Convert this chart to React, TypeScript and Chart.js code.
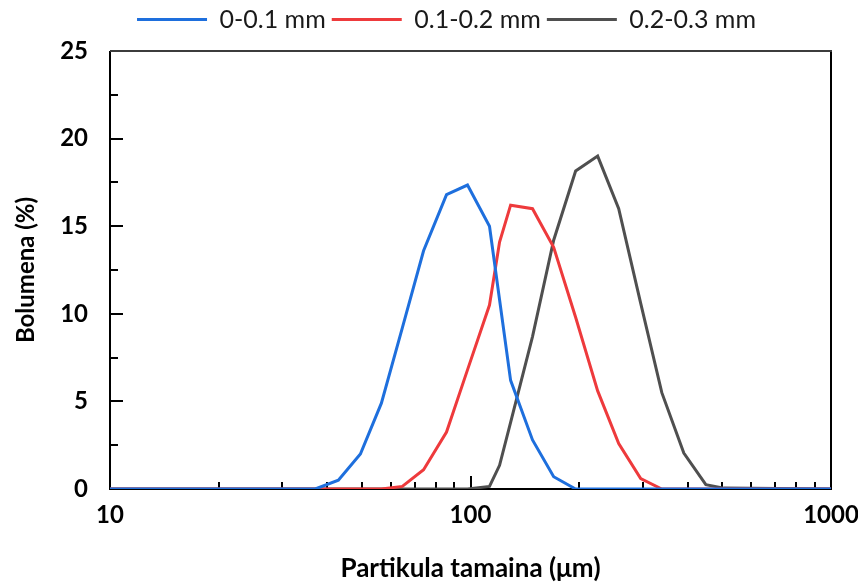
import React, { useEffect, useRef } from "react";
import { Chart, registerables } from "chart.js";

Chart.register(...registerables);

// Particle size (µm)
const sizesUm = [10, 37.1, 43.0, 49.5, 56.6, 64.7, 74.1, 85.8, 98.1, 112.9, 120.4, 129.2, 148.6, 170.1, 195.7, 225.3, 257.7, 296.6, 339.4, 390.6, 449.6, 504.5, 1000];

// Volume (%) per fraction
const fine = [0, 0, 0.5, 2.0, 4.9, 9.2, 13.6, 16.8, 17.35, 15.0, 10.8, 6.2, 2.8, 0.7, 0, 0, 0, 0, 0, 0, 0, 0, 0];
const medium = [0, 0, 0, 0, 0, 0.15, 1.1, 3.25, 6.8, 10.5, 14.1, 16.2, 16.0, 13.8, 9.8, 5.6, 2.6, 0.6, 0, 0, 0, 0, 0];
const coarse = [0, 0, 0, 0, 0, 0, 0, 0, 0, 0.15, 1.35, 3.8, 8.7, 14.2, 18.15, 19.0, 16.0, 10.6, 5.5, 2.05, 0.25, 0.05, 0];

const seriesLabels = ["0-0.1 mm", "0.1-0.2 mm", "0.2-0.3 mm"];
const seriesColors = ["#1E6FDD", "#EE3A3C", "#4F4F4F"];

const xMajorTicks = [10, 100, 1000];
const xMinorTicks = [20, 30, 40, 50, 60, 70, 80, 90, 200, 300, 400, 500, 600, 700, 800, 900];
const yMajorTicks = [0, 5, 10, 15, 20, 25];
const yMinorTicks = [2.5, 7.5, 12.5, 17.5, 22.5];

const xTitle = "Partikula tamaina (\u03BCm)";
const yTitle = "Bolumena (%)";

const FONT = "Lato, 'Open Sans', sans-serif";

const framePlugin = {
  id: "frameTicks",
  afterLayout(chart: any) {
    const lg = chart.legend;
    if (lg) {
      lg.top -= 9;
      lg.bottom -= 9;
      lg.left += 31;
      lg.right += 31;
    }
  },
  beforeDatasetsDraw(chart: any) {
    const { ctx, chartArea: a, scales } = chart;
    const x = scales.x;
    const y = scales.y;
    ctx.save();
    ctx.strokeStyle = "#000";
    ctx.lineWidth = 2;
    ctx.beginPath();
    for (const v of xMajorTicks) {
      const px = Math.round(x.getPixelForValue(v));
      ctx.moveTo(px, a.bottom);
      ctx.lineTo(px, a.bottom - 13);
    }
    for (const v of xMinorTicks) {
      const px = Math.round(x.getPixelForValue(v));
      ctx.moveTo(px, a.bottom);
      ctx.lineTo(px, a.bottom - 7);
    }
    for (const v of yMajorTicks) {
      const py = Math.round(y.getPixelForValue(v));
      ctx.moveTo(a.left, py);
      ctx.lineTo(a.left + 13, py);
    }
    for (const v of yMinorTicks) {
      const py = Math.round(y.getPixelForValue(v));
      ctx.moveTo(a.left, py);
      ctx.lineTo(a.left + 8, py);
    }
    ctx.stroke();
    // left, bottom, right borders
    ctx.beginPath();
    ctx.moveTo(a.right, a.top);
    ctx.lineTo(a.right, a.bottom);
    ctx.lineTo(a.left, a.bottom);
    ctx.lineTo(a.left, a.top);
    ctx.stroke();
    // top border
    ctx.strokeStyle = "#3c3c3c";
    ctx.beginPath();
    ctx.moveTo(a.left, a.top);
    ctx.lineTo(a.right + 1, a.top);
    ctx.stroke();
    ctx.restore();
  },
};

export default function App() {
  const canvasRef = useRef<HTMLCanvasElement | null>(null);

  useEffect(() => {
    const canvas = canvasRef.current;
    if (!canvas) return;
    const series = [fine, medium, coarse];
    const datasets = series.map((vals, i) => ({
      label: seriesLabels[i],
      data: sizesUm.map((s, j) => ({ x: s, y: vals[j] })),
      borderColor: seriesColors[i],
      backgroundColor: seriesColors[i],
      borderWidth: 3,
      pointRadius: 0,
      pointHoverRadius: 0,
      tension: 0,
      fill: false,
    }));

    const chart = new Chart(canvas, {
      type: "line",
      data: { datasets },
      plugins: [framePlugin],
      options: {
        animation: false,
        responsive: false,
        devicePixelRatio: 1,
        layout: { padding: { top: 10, right: 27, bottom: 0, left: 0 } },
        plugins: {
          tooltip: { enabled: false },
          legend: {
            display: true,
            position: "top",
            labels: {
              boxWidth: 70,
              boxHeight: 0,
              padding: 6,
              color: "#1a1a1a",
              font: { family: FONT, size: 25, weight: "normal" },
            },
          },
        },
        scales: {
          x: {
            type: "logarithmic",
            min: 10,
            max: 1000,
            afterBuildTicks: (scale: any) => {
              scale.ticks = xMajorTicks.map((v) => ({ value: v }));
            },
            afterFit: (scale: any) => {
              scale.height = 95;
              scale.paddingLeft = 0;
              scale.paddingRight = 0;
            },
            grid: { display: false, drawTicks: false },
            border: { display: false },
            ticks: {
              autoSkip: false,
              maxRotation: 0,
              padding: 12,
              color: "#000",
              font: { family: FONT, size: 24, weight: "bold" },
              callback: (v: any) => String(v),
            },
            title: {
              display: true,
              text: xTitle,
              color: "#000",
              font: { family: FONT, size: 26, weight: "bold" },
              padding: { top: 0, bottom: 0 },
            },
          },
          y: {
            type: "linear",
            min: 0,
            max: 25,
            afterFit: (scale: any) => {
              scale.width = 110;
              scale.paddingTop = 0;
              scale.paddingBottom = 0;
            },
            grid: { display: false, drawTicks: false },
            border: { display: false },
            ticks: {
              stepSize: 5,
              padding: 22,
              color: "#000",
              font: { family: FONT, size: 24, weight: "bold" },
            },
            title: {
              display: true,
              text: yTitle,
              color: "#000",
              font: { family: FONT, size: 24, weight: "bold" },
              padding: { top: 12, bottom: 0 },
            },
          },
        },
      },
    });
    return () => chart.destroy();
  }, []);

  return (
    <div style={{ position: "fixed", left: 0, top: 0, width: 858, height: 584, background: "#fff" }}>
      <canvas ref={canvasRef} width={858} height={584} style={{ display: "block" }} />
    </div>
  );
}
